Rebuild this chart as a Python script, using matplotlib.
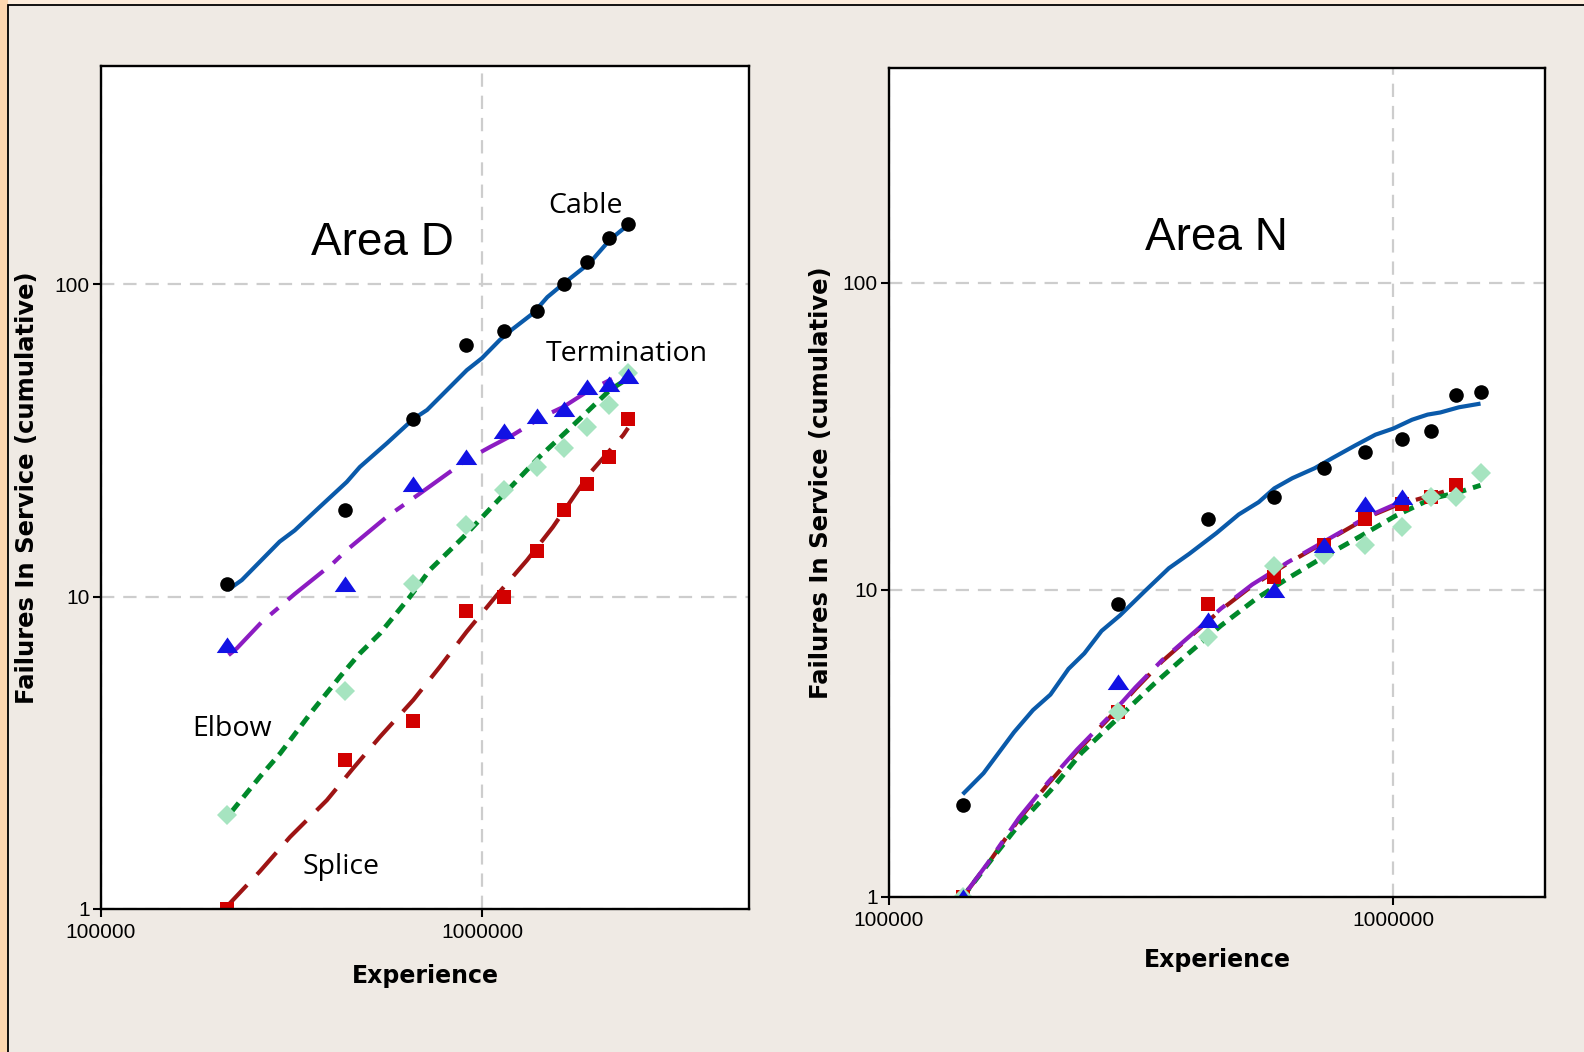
import matplotlib
matplotlib.use("Agg")
import matplotlib.pyplot as plt
import matplotlib.patches as mpatches
from matplotlib.ticker import FixedLocator, FixedFormatter, NullLocator

# ---- Area D data ----
exp_d = [2.14e5, 4.36e5, 6.59e5, 9.03e5, 1.14e6, 1.39e6, 1.64e6, 1.88e6, 2.15e6, 2.41e6]
cable_d = [11, 19, 37, 64, 71, 82, 100, 118, 141, 156]
term_d = [7, 11, 23, 28, 34, 38, 40, 47, 48, 51]
elbow_d = [2, 5, 11, 17, 22, 26, 30, 35, 41, 52]
splice_d = [1, 3, 4, 9, 10, 14, 19, 23, 28, 37]

cable_fit_d_x = [2.15e5, 2.34e5, 2.94e5, 3.22e5, 3.75e5, 4.41e5, 4.77e5, 5.62e5, 6.58e5, 7.16e5,
                 9.10e5, 9.97e5, 1.11e6, 1.20e6, 1.36e6, 1.48e6, 1.64e6, 1.91e6, 2.16e6, 2.41e6]
cable_fit_d_y = [10.5, 11.3, 15.0, 16.3, 19.4, 23.3, 26.0, 31.0, 37.0, 39.6,
                 53.1, 58.0, 66.3, 71.9, 80.9, 91.0, 101, 117, 139, 155]
term_fit_d_x = [2.16e5, 2.27e5, 2.64e5, 3.22e5, 4.06e5, 4.41e5, 5.61e5, 6.86e5, 9.09e5, 1.05e6,
                1.20e6, 1.44e6, 1.63e6, 1.88e6, 2.16e6, 2.41e6]
term_fit_d_y = [6.5, 6.83, 8.3, 10.2, 12.8, 14.1, 18.0, 21.4, 27.4, 30.2,
                32.9, 37.7, 40.5, 45.3, 49.4, 52.5]
elbow_fit_d_x = [2.20e5, 2.61e5, 2.95e5, 3.60e5, 4.23e5, 4.77e5, 5.39e5, 6.46e5, 7.29e5, 8.91e5,
                 1.11e6, 1.41e6, 1.73e6, 2.16e6, 2.41e6]
elbow_fit_d_y = [2.05, 2.65, 3.15, 4.34, 5.54, 6.58, 7.63, 10.0, 12.2, 15.5,
                 20.6, 28.0, 35.4, 45.9, 50.0]
splice_fit_d_x = [2.14e5, 2.61e5, 3.13e5, 3.91e5, 4.58e5, 5.39e5, 6.59e5, 7.74e5, 9.09e5, 1.09e6,
                  1.31e6, 1.53e6, 1.91e6, 2.34e6, 2.41e6]
splice_fit_d_y = [1.02, 1.32, 1.70, 2.23, 2.82, 3.56, 4.67, 5.97, 7.72, 10.1,
                  13.1, 16.7, 24.8, 32.9, 34.7]

# ---- Area N data ----
exp_n = [1.40e5, 2.84e5, 4.30e5, 5.81e5, 7.28e5, 8.81e5, 1.04e6, 1.19e6, 1.33e6, 1.49e6]
cable_n = [2, 9, 17, 20, 25, 28, 31, 33, 43, 44]
term_n = [1, 5, 8, 10, 14, 19, 20]
splice_n = [1, 4, 9, 11, 14, 17, 19, 20, 22]
elbow_n = [1, 4, 7, 12, 13, 14, 16, 20, 20, 24]

cable_fit_n_x = [1.40e5, 1.54e5, 1.77e5, 1.93e5, 2.09e5, 2.27e5, 2.44e5, 2.64e5, 2.87e5, 3.21e5,
                 3.59e5, 3.94e5, 4.46e5, 4.94e5, 5.41e5, 5.81e5, 6.31e5, 6.99e5, 7.59e5, 8.40e5,
                 9.22e5, 1.00e6, 1.09e6, 1.17e6, 1.24e6, 1.35e6, 1.49e6]
cable_fit_n_y = [2.16, 2.53, 3.44, 4.06, 4.56, 5.53, 6.21, 7.35, 8.25, 9.87,
                 11.76, 13.1, 15.3, 17.6, 19.3, 21.4, 23.1, 24.9, 26.9, 29.5,
                 32.0, 33.5, 35.8, 37.2, 37.8, 39.3, 40.4]
term_fit_n_x = [1.40e5, 1.57e5, 1.81e5, 2.07e5, 2.36e5, 2.73e5, 3.08e5, 3.48e5, 4.02e5, 4.55e5,
                5.25e5, 6.18e5, 6.99e5, 7.91e5, 8.94e5, 1.01e6, 1.04e6]
term_fit_n_y = [1.0, 1.29, 1.81, 2.37, 3.02, 3.86, 4.81, 5.90, 7.25, 8.68,
                10.4, 12.3, 13.8, 15.5, 17.4, 19.0, 19.4]
splice_fit_n_x = [1.40e5, 1.57e5, 1.81e5, 2.07e5, 2.36e5, 2.73e5, 3.08e5, 3.48e5, 4.02e5, 4.55e5,
                  5.25e5, 6.18e5, 6.99e5, 7.91e5, 8.94e5, 1.01e6, 1.19e6, 1.35e6]
splice_fit_n_y = [1.0, 1.28, 1.79, 2.34, 2.98, 3.82, 4.75, 5.85, 7.2, 8.6,
                  10.3, 12.2, 13.7, 15.4, 17.3, 18.8, 20.3, 21.6]
elbow_fit_n_x = [1.40e5, 1.60e5, 1.81e5, 2.09e5, 2.41e5, 2.84e5, 3.35e5, 3.86e5, 4.55e5, 5.36e5,
                 6.18e5, 7.28e5, 8.58e5, 1.01e6, 1.19e6, 1.35e6, 1.49e6]
elbow_fit_n_y = [1.0, 1.33, 1.72, 2.22, 2.95, 3.81, 4.93, 6.06, 7.64, 9.38,
                 10.9, 12.8, 14.9, 17.4, 19.8, 20.8, 21.9]

# ---- styles ----
C_CABLE = "#0A5AAA"
C_TERM = "#8C1CC2"
C_ELBOW = "#00892A"
C_SPLICE = "#9E1414"
TRI = [(-1, -0.7), (1, -0.7), (0, 0.75)]

TICK_FONT = ["Liberation Sans Narrow", "Liberation Sans"]
LABEL_FONT = "DejaVu Sans"
NOTE_FONT = "Open Sans"

W, H = 1584, 1052
fig = plt.figure(figsize=(W / 100, H / 100), dpi=100, facecolor="#FDEDDD")

# orange strip on the left edge and the beige panel with a black frame
fig.patches.append(mpatches.Rectangle((0, 0), 8 / W, 1, transform=fig.transFigure,
                                      facecolor="#FDD7B0", edgecolor="none", zorder=-3))
fig.patches.append(mpatches.Rectangle((8 / W, -0.05), 1.1, 1.05 - 5.5 / H, transform=fig.transFigure,
                                      facecolor="#EFEAE4", edgecolor="black", lw=1.3, zorder=-2))


def px(x, y):
    return x / W, 1 - y / H


def setup(ax, xmax):
    ax.set_xscale("log")
    ax.set_yscale("log")
    ax.set_xlim(1e5, xmax)
    ax.set_ylim(1, 500)
    ax.xaxis.set_major_locator(FixedLocator([1e5, 1e6]))
    ax.xaxis.set_major_formatter(FixedFormatter(["100000", "1000000"]))
    ax.yaxis.set_major_locator(FixedLocator([1, 10, 100]))
    ax.yaxis.set_major_formatter(FixedFormatter(["1", "10", "100"]))
    ax.xaxis.set_minor_locator(NullLocator())
    ax.yaxis.set_minor_locator(NullLocator())
    ax.grid(True, color="#CDCDCD", ls=(0, (6, 4)), lw=1.6)
    ax.set_axisbelow(True)
    for s in ax.spines.values():
        s.set_linewidth(1.7)
        s.set_color("black")
    ax.tick_params(direction="out", length=6, width=1.5, labelsize=15)
    ax.tick_params(axis="x", pad=4)
    ax.tick_params(axis="y", pad=2)
    for lab in ax.get_xticklabels() + ax.get_yticklabels():
        lab.set_family(TICK_FONT)
    ax.set_xlabel("Experience", fontsize=17, fontweight="bold", family=LABEL_FONT)
    ax.set_ylabel("Failures In Service (cumulative)", fontsize=17.5, fontweight="bold", family=LABEL_FONT)


def draw(ax, ex, fits, pts):
    (cx, cy), (tx, ty), (ex_, ey), (sx, sy) = fits
    ax.plot(cx, cy, color=C_CABLE, lw=3.0, solid_capstyle="butt")
    ax.plot(sx, sy, color=C_SPLICE, lw=3.0, ls=(0, (7, 3.5)))
    ax.plot(ex_, ey, color=C_ELBOW, lw=3.5, ls=(0, (2.3, 1.5)))
    ax.plot(tx, ty, color=C_TERM, lw=3.0, ls=(0, (11, 3, 2.5, 3)))
    cab, term, elb, spl = pts
    ax.plot(ex[:len(spl)], spl, ls="none", marker="s", ms=10, mfc="#D20000", mec="#D20000", mew=0)
    ax.plot(ex[:len(elb)], elb, ls="none", marker="D", ms=10.5, mfc="#A6E4C0", mec="#A6E4C0", mew=0)
    ax.plot(ex[:len(term)], term, ls="none", marker=TRI, ms=15.5, mfc="#1212E4", mec="#1212E4", mew=0)
    ax.plot(ex[:len(cab)], cab, ls="none", marker="o", ms=10.5, mfc="black", mec="black", mew=0)


ax1 = fig.add_axes([101 / W, 1 - 909 / H, 648 / W, 843 / H], facecolor="white")
setup(ax1, 5e6)
draw(ax1, exp_d,
     [(cable_fit_d_x, cable_fit_d_y), (term_fit_d_x, term_fit_d_y),
      (elbow_fit_d_x, elbow_fit_d_y), (splice_fit_d_x, splice_fit_d_y)],
     [cable_d, term_d, elbow_d, splice_d])
ax1.xaxis.set_label_coords(0.5, -0.065)
ax1.yaxis.set_label_coords(-0.096, 0.5)

ax2 = fig.add_axes([889 / W, 1 - 897 / H, 656 / W, 829 / H], facecolor="white")
setup(ax2, 2e6)
draw(ax2, exp_n,
     [(cable_fit_n_x, cable_fit_n_y), (term_fit_n_x, term_fit_n_y),
      (elbow_fit_n_x, elbow_fit_n_y), (splice_fit_n_x, splice_fit_n_y)],
     [cable_n, term_n, elbow_n, splice_n])
ax2.xaxis.set_label_coords(0.5, -0.061)
ax2.yaxis.set_label_coords(-0.085, 0.5)

# titles inside the panels
fig.text(*px(382, 255), "Area D", fontsize=33, family="Liberation Sans", ha="center", va="baseline")
fig.text(*px(1216, 250), "Area N", fontsize=33, family="Liberation Sans", ha="center", va="baseline")

# component labels
fig.text(*px(585, 213), "Cable", fontsize=20.5, family=NOTE_FONT, ha="center", va="baseline")
fig.text(*px(546, 361), "Termination", fontsize=20.5, family=NOTE_FONT, ha="left", va="baseline")
fig.text(*px(192, 736), "Elbow", fontsize=20.5, family=NOTE_FONT, ha="left", va="baseline")
fig.text(*px(302, 874), "Splice", fontsize=20.5, family=NOTE_FONT, ha="left", va="baseline")

fig.savefig("out.png", dpi=100, facecolor=fig.get_facecolor())
